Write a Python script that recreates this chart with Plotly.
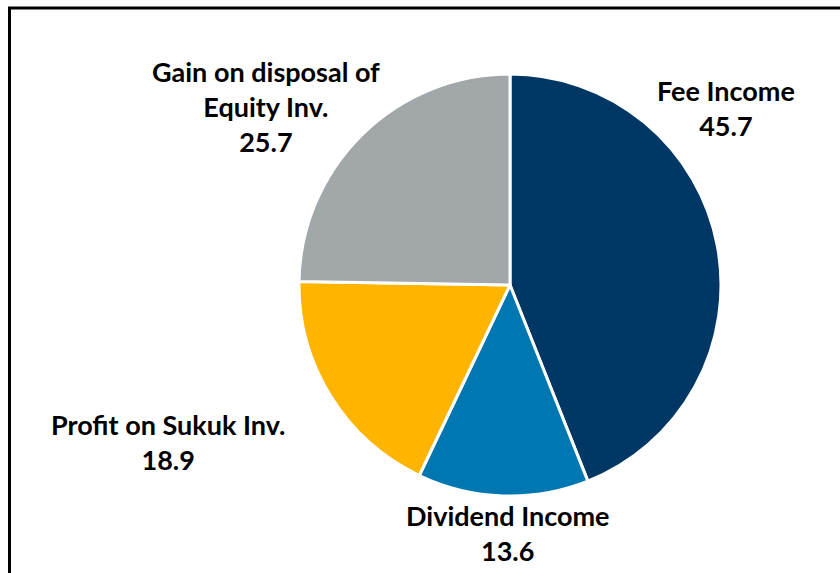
import plotly.graph_objects as go

categories = ["Fee Income", "Dividend Income", "Profit on Sukuk Inv.", "Gain on disposal of<br>Equity Inv."]
values = [45.7, 13.6, 18.9, 25.7]
colors = ["#003764", "#0077B0", "#FFB500", "#A2A7AA"]

W, H = 840, 573
cx, cy, r = 510, 285, 211

fig = go.Figure(go.Pie(
    labels=categories,
    values=values,
    sort=False,
    direction="clockwise",
    rotation=0,
    marker=dict(colors=colors, line=dict(color="white", width=3)),
    textinfo="none",
    hoverinfo="label+value",
    showlegend=False,
    domain=dict(x=[(cx - r) / W, (cx + r) / W], y=[(H - cy - r) / H, (H - cy + r) / H]),
))

# label positions in pixels (center x, block center y)
label_pos = [(726, 108), (508, 533), (168, 442), (266, 106)]
for cat, val, (lx, ly) in zip(categories, values, label_pos):
    fig.add_annotation(
        x=lx / W, y=1 - ly / H, xref="paper", yref="paper",
        text=f"{cat}<br>{val}", showarrow=False,
        font=dict(family="Lato", size=27, color="black", weight="bold"),
        align="center", xanchor="center", yanchor="middle",
    )

fig.add_shape(type="rect", xref="paper", yref="paper",
              x0=9.5 / W, x1=1.05, y0=-0.05, y1=1 - 8 / H,
              line=dict(color="black", width=3))

fig.update_layout(
    width=W, height=H,
    margin=dict(l=0, r=0, t=0, b=0),
    paper_bgcolor="white", plot_bgcolor="white",
)

fig.write_html("out.html", config={"displayModeBar": False},
               post_script="document.body.style.margin='0';document.body.style.overflow='hidden';")
